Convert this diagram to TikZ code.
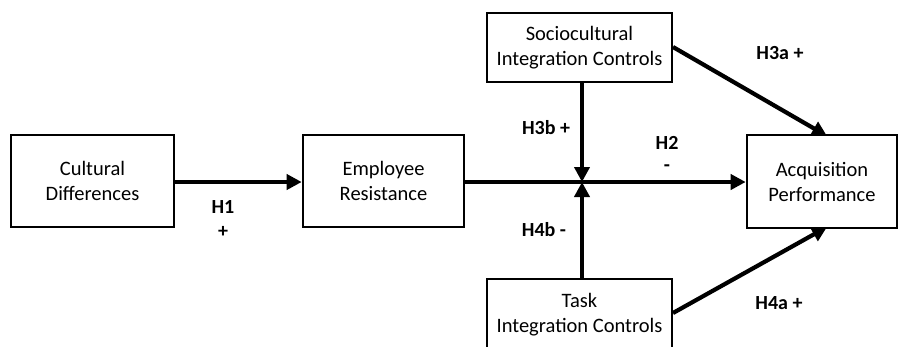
\documentclass[tikz,border=0pt]{standalone}
\usepackage{fontspec}
\setmainfont{Carlito}
\usetikzlibrary{arrows.meta}
\begin{document}
\begin{tikzpicture}[x=1pt,y=-1pt,
  box/.style={draw,line width=2.6pt,align=center,inner sep=0pt,font=\fontsize{20.5}{25}\selectfont},
  conn/.style={line width=4.2pt,-{Triangle[length=15pt,width=15pt]}},
  lab/.style={font=\bfseries\fontsize{20}{25}\selectfont,inner sep=0pt}]
\useasboundingbox (0,0) rectangle (899,346);
\clip (0,0) rectangle (899,346);
\fill[white] (0,0) rectangle (899,346);
\node[box,minimum width=163pt,minimum height=92pt] (cd) at (92.5,181) {Cultural\\Differences};
\node[box,minimum width=161pt,minimum height=92pt] (er) at (383.5,181) {Employee\\Resistance};
\node[box,minimum width=185pt,minimum height=69pt] (sc) at (579.5,47.5) {Sociocultural\\Integration Controls};
\node[box,minimum width=185pt,minimum height=72pt] (tc) at (579.5,315) {Task\\Integration Controls};
\node[box,minimum width=150pt,minimum height=93pt] (ap) at (822,181.5) {Acquisition\\Performance};
\coordinate (j) at (582,182);
\draw[conn] (cd.east |- 0,182) -- (er.west |- 0,182);
\draw[conn] (er.east |- 0,182) -- (ap.west |- 0,182);
\draw[conn] (sc.south -| j) -- (j);
\draw[conn] (tc.north -| j) -- (j);
\coordinate (s1) at (673,47);
\coordinate (t1) at (673,313);
\coordinate (a1) at (827,136);
\coordinate (a2) at (827,227);
\draw[conn] (s1) -- (a1);
\draw[conn] (t1) -- (a2);
\node[lab] (h1) at (223,207) {H1};
\node[lab] (h1s) at (223,232) {+};
\node[lab] (h2) at (667,143) {H2};
\node[lab] (h2s) at (667,168) {-};
\node[lab] (h3a) at (780,53) {H3a +};
\node[lab] (h3b) at (546,128) {H3b +};
\node[lab] (h4b) at (544,230) {H4b -};
\node[lab] (h4a) at (779,303) {H4a +};
\end{tikzpicture}
\end{document}
